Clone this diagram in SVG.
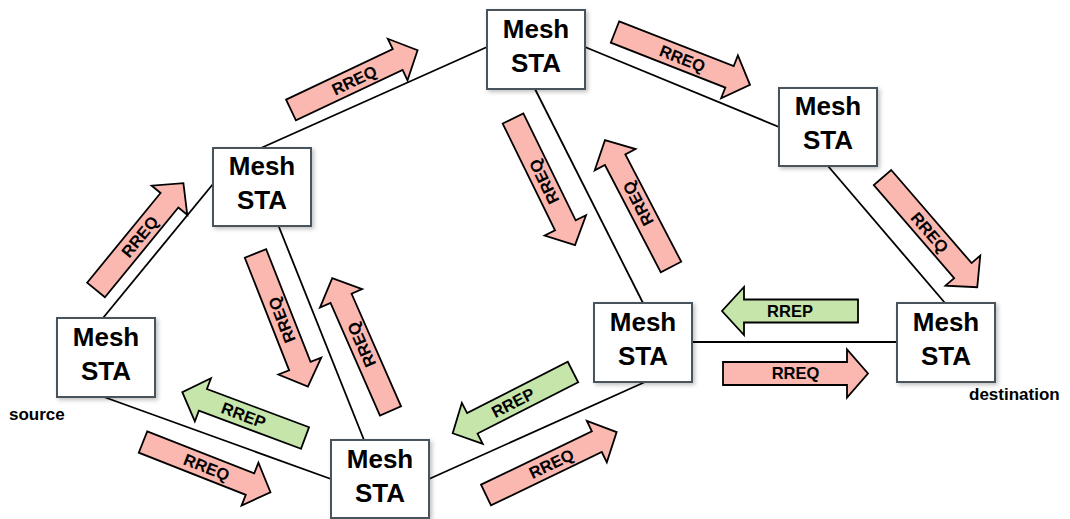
<svg xmlns="http://www.w3.org/2000/svg" width="1070" height="519" viewBox="0 0 1070 519">
  <defs>
    <filter id="shadow" x="-10%" y="-10%" width="130%" height="130%">
      <feDropShadow dx="2" dy="2" stdDeviation="2" flood-color="#000" flood-opacity="0.25"/>
    </filter>
  </defs>
  <style>
    .box { fill: #ffffff; stroke: #48525c; stroke-width: 2; filter: url(#shadow); }
    .name { font-family: "Liberation Sans", Arial, sans-serif; font-weight: bold; font-size: 26px; fill: #000; text-anchor: middle; }
    .link { stroke: #000; stroke-width: 1.8; fill: none; }
    .req { fill: #fbb8b0; stroke: #000; stroke-width: 1.8; stroke-linejoin: miter; }
    .rep { fill: #c6e5aa; stroke: #000; stroke-width: 1.8; stroke-linejoin: miter; }
    .msg { font-family: "Liberation Sans", Arial, sans-serif; font-weight: bold; font-size: 16.5px; fill: #000; text-anchor: middle; }
    .tag { font-family: "Liberation Sans", Arial, sans-serif; font-weight: bold; font-size: 17px; fill: #000; }
  </style>

  <!-- links between stations -->
  <g id="connectors">
    <line class="link" x1="103" y1="318" x2="213" y2="184"/>
    <line class="link" x1="261" y1="148" x2="487" y2="47"/>
    <line class="link" x1="585" y1="47" x2="779" y2="127"/>
    <line class="link" x1="535" y1="89" x2="643" y2="303"/>
    <line class="link" x1="828" y1="166" x2="945" y2="303"/>
    <line class="link" x1="279" y1="227" x2="364" y2="440"/>
    <line class="link" x1="104" y1="397" x2="331" y2="479"/>
    <line class="link" x1="429" y1="479" x2="645" y2="382"/>
    <line class="link" x1="692" y1="342" x2="897" y2="342"/>
  </g>

  <!-- stations -->
  <g id="sta-top">
    <rect class="box" x="487" y="10" width="98" height="79"/>
    <text class="name" x="536" y="38">Mesh</text>
    <text class="name" x="536" y="72">STA</text>
  </g>
  <g id="sta-upper-right">
    <rect class="box" x="779" y="88" width="98" height="78"/>
    <text class="name" x="828" y="115">Mesh</text>
    <text class="name" x="828" y="149">STA</text>
  </g>
  <g id="sta-upper-left">
    <rect class="box" x="213" y="148" width="98" height="78"/>
    <text class="name" x="262" y="175">Mesh</text>
    <text class="name" x="262" y="209">STA</text>
  </g>
  <g id="sta-source">
    <rect class="box" x="57" y="318" width="98" height="79"/>
    <text class="name" x="106" y="346">Mesh</text>
    <text class="name" x="106" y="380">STA</text>
    <text class="tag" x="9" y="420">source</text>
  </g>
  <g id="sta-middle">
    <rect class="box" x="594" y="303" width="98" height="79"/>
    <text class="name" x="643" y="331">Mesh</text>
    <text class="name" x="643" y="365">STA</text>
  </g>
  <g id="sta-destination">
    <rect class="box" x="897" y="303" width="98" height="79"/>
    <text class="name" x="946" y="331">Mesh</text>
    <text class="name" x="946" y="365">STA</text>
    <text class="tag" x="969" y="400">destination</text>
  </g>
  <g id="sta-bottom">
    <rect class="box" x="331" y="440" width="98" height="78"/>
    <text class="name" x="380" y="468">Mesh</text>
    <text class="name" x="380" y="502">STA</text>
  </g>

  <!-- message arrows: tail centre at origin, pointing along +x -->
  <g id="messages">
    <g transform="translate(291 110) rotate(-25.3)">
      <path class="req" d="M0,-11.5 H118 V-23 L140,0 L118,23 V11.5 H0 Z"/>
      <text class="msg" x="70" y="0" dy="0.36em">RREQ</text>
    </g>
    <g transform="translate(96 290) rotate(-50.7)">
      <path class="req" d="M0,-11.5 H116 V-23 L138,0 L116,23 V11.5 H0 Z"/>
      <text class="msg" x="69" y="0" dy="0.36em">RREQ</text>
    </g>
    <g transform="translate(615 32) rotate(21.4)">
      <path class="req" d="M0,-11.5 H123 V-23 L145,0 L123,23 V11.5 H0 Z"/>
      <text class="msg" x="72.5" y="0" dy="0.36em">RREQ</text>
    </g>
    <g transform="translate(882.5 177.5) rotate(49.2)">
      <path class="req" d="M0,-11.5 H123 V-23 L145,0 L123,23 V11.5 H0 Z"/>
      <text class="msg" x="72.5" y="0" dy="0.36em">RREQ</text>
    </g>
    <g transform="translate(513 118.5) rotate(63.9)">
      <path class="req" d="M0,-11.5 H119 V-23 L141,0 L119,23 V11.5 H0 Z"/>
      <text class="msg" x="70.5" y="0" dy="0.36em" transform="rotate(180 70.5 0)">RREQ</text>
    </g>
    <g transform="translate(671 267) rotate(-117.5)">
      <path class="req" d="M0,-11.5 H121 V-23 L143,0 L121,23 V11.5 H0 Z"/>
      <text class="msg" x="71.5" y="0" dy="0.36em">RREQ</text>
    </g>
    <g transform="translate(255.5 253.5) rotate(68.5)">
      <path class="req" d="M0,-11.5 H121 V-23 L143,0 L121,23 V11.5 H0 Z"/>
      <text class="msg" x="71.5" y="0" dy="0.36em" transform="rotate(180 71.5 0)">RREQ</text>
    </g>
    <g transform="translate(390.5 411) rotate(-113.7)">
      <path class="req" d="M0,-11.5 H123 V-23 L145,0 L123,23 V11.5 H0 Z"/>
      <text class="msg" x="72.5" y="0" dy="0.36em">RREQ</text>
    </g>
    <g transform="translate(305 438) rotate(-159.5)">
      <path class="rep" d="M0,-11.5 H109 V-23 L131,0 L109,23 V11.5 H0 Z"/>
      <text class="msg" x="65.5" y="0" dy="0.36em" transform="rotate(180 65.5 0)">RREP</text>
    </g>
    <g transform="translate(143 442) rotate(21.5)">
      <path class="req" d="M0,-11.5 H115 V-23 L137,0 L115,23 V11.5 H0 Z"/>
      <text class="msg" x="68.5" y="0" dy="0.36em">RREQ</text>
    </g>
    <g transform="translate(486 495) rotate(-25.7)">
      <path class="req" d="M0,-11.5 H123 V-23 L145,0 L123,23 V11.5 H0 Z"/>
      <text class="msg" x="72.5" y="0" dy="0.36em">RREQ</text>
    </g>
    <g transform="translate(573 372) rotate(153)">
      <path class="rep" d="M0,-11.5 H113 V-23 L135,0 L113,23 V11.5 H0 Z"/>
      <text class="msg" x="67.5" y="0" dy="0.36em" transform="rotate(180 67.5 0)">RREP</text>
    </g>
    <g transform="translate(858 311) rotate(180)">
      <path class="rep" d="M0,-11.5 H114 V-24 L136,0 L114,24 V11.5 H0 Z"/>
      <text class="msg" x="68" y="0" dy="0.36em" transform="rotate(180 68 0)">RREP</text>
    </g>
    <g transform="translate(723 373.5)">
      <path class="req" d="M0,-11.5 H124 V-24 L145,0 L124,24 V11.5 H0 Z"/>
      <text class="msg" x="72.5" y="0" dy="0.36em">RREQ</text>
    </g>
  </g>
</svg>
